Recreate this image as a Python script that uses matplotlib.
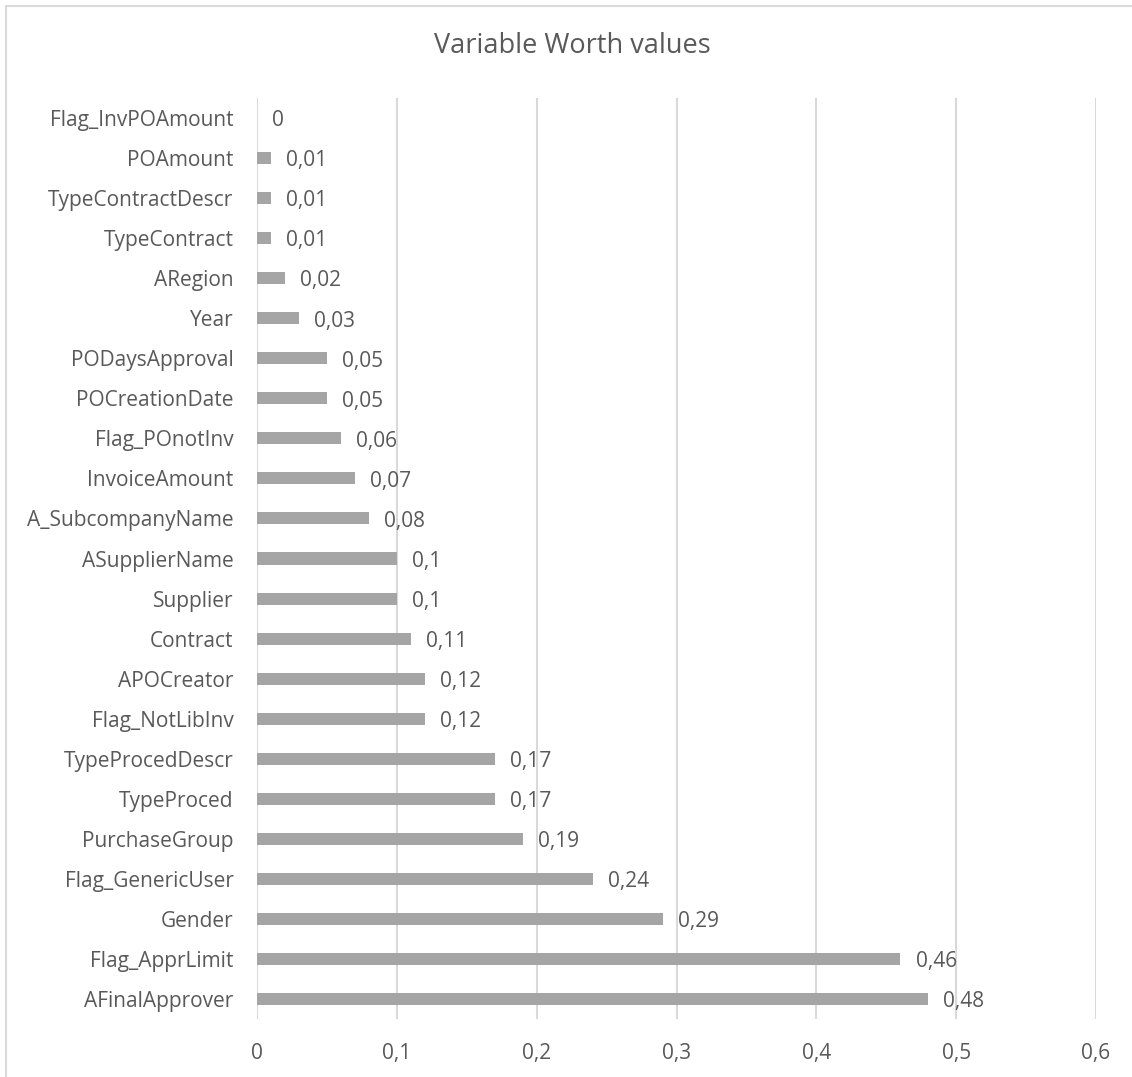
import matplotlib
matplotlib.use("Agg")
import matplotlib.pyplot as plt
from matplotlib.patches import Rectangle

categories = ["Flag_InvPOAmount", "POAmount", "TypeContractDescr", "TypeContract",
              "ARegion", "Year", "PODaysApproval", "POCreationDate", "Flag_POnotInv",
              "InvoiceAmount", "A_SubcompanyName", "ASupplierName", "Supplier",
              "Contract", "APOCreator", "Flag_NotLibInv", "TypeProcedDescr",
              "TypeProced", "PurchaseGroup", "Flag_GenericUser", "Gender",
              "Flag_ApprLimit", "AFinalApprover"]
values = [0, 0.01, 0.01, 0.01, 0.02, 0.03, 0.05, 0.05, 0.06, 0.07, 0.08, 0.1, 0.1,
          0.11, 0.12, 0.12, 0.17, 0.17, 0.19, 0.24, 0.29, 0.46, 0.48]
xticks = [0, 0.1, 0.2, 0.3, 0.4, 0.5, 0.6]
title = "Variable Worth values"

def fmt(v):
    s = f"{v:.2f}".rstrip("0").rstrip(".")
    return s.replace(".", ",")

plt.rcParams['font.family'] = ['Open Sans', 'DejaVu Sans']
txt = "#595959"
W, H = 1132, 1077
fig = plt.figure(figsize=(W/100, H/100), dpi=100)
fig.patches.append(Rectangle((6/W, -0.01), 1.02, 1 - 6/H + 0.01, transform=fig.transFigure,
                             fill=False, edgecolor="#D9D9D9", linewidth=1.5))
ax = fig.add_axes([257/W, 1 - 1019/H, (1096-257)/W, (1019-98)/H])
y = list(range(len(categories)))
ax.barh(y, values, height=0.3, color="#A5A5A5", zorder=3)
ax.set_ylim(len(categories) - 0.5, -0.5)
ax.set_xlim(0, 0.6)
ax.set_xticks(xticks)
ax.set_xticklabels([fmt(v) for v in xticks])
ax.set_yticks(y)
ax.set_yticklabels(categories)
ax.tick_params(axis='both', length=0, labelsize=15, colors=txt)
ax.tick_params(axis='x', pad=17)
ax.tick_params(axis='y', pad=17)
ax.grid(axis='x', color="#D9D9D9", linewidth=1.5, zorder=0)
for s in ax.spines.values():
    s.set_visible(False)
for yi, v in zip(y, values):
    ax.annotate(fmt(v), (v, yi), xytext=(11, -2), textcoords='offset points',
                va='center', ha='left', fontsize=15, color=txt)
fig.text(572/W, 1 - 46/H, title, ha='center', va='center', fontsize=19.5, color=txt)
fig.savefig("out.png", dpi=100)
